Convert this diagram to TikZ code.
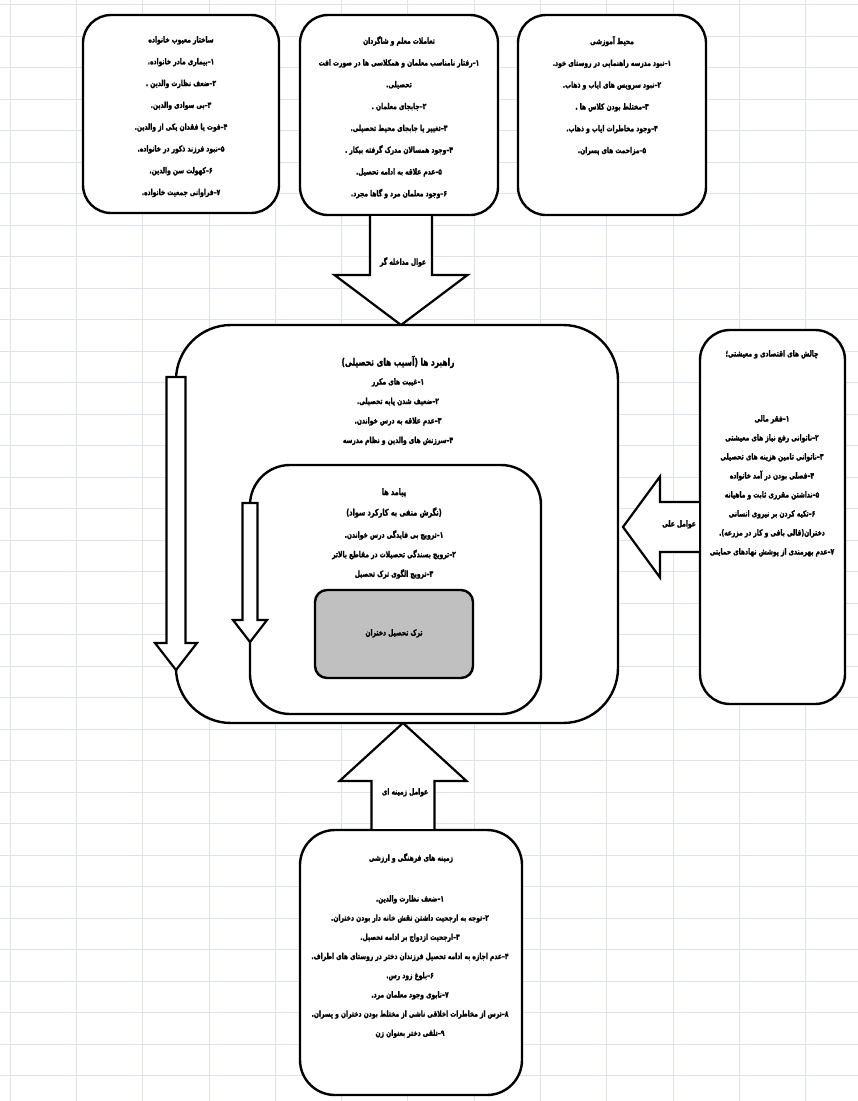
\documentclass[tikz,border=0pt]{standalone}
\usepackage{fontspec}
\usetikzlibrary{calc}
\TeXXeTstate=1
\newfontfamily\arabicfont[Script=Arabic,FakeStretch=0.72,FakeBold=1.6]{DejaVu Sans}
\newcommand\fa[1]{\beginR #1\endR}
\newcommand\nm[1]{#1\kern0pt–\kern0pt}
\definecolor{gridc}{RGB}{222,226,236}
\definecolor{goalgray}{RGB}{192,192,192}

\tikzset{
  panel/.style={draw, line width=2.4pt, fill=white, rounded corners=#1, inner sep=0pt, outer sep=0pt},
  panel/.default=28pt,
  blockarrow/.style={draw, line width=2.2pt, fill=white, line join=miter},
  gridline/.style={draw=gridc, line width=0.7pt},
  fatext/.style={font={\arabicfont\bfseries\fontsize{8.3}{#1}\selectfont}, align=center, inner sep=0pt, anchor=north},
  fatext/.default=21.8pt,
  fatitle/.style={font={\arabicfont\bfseries\fontsize{10.3}{12}\selectfont}, inner sep=0pt},
}

\begin{document}
\begin{tikzpicture}[x=1pt, y=-1pt]
\useasboundingbox (0,0) rectangle (858,1101);

% sheet grid
\foreach \i in {0,...,12}
  \draw[gridline] (10+66.3*\i,0) -- (10+66.3*\i,1101);
\foreach \j in {0,...,34}
  \draw[gridline] (0,4.5+31.5*\j) -- (858,4.5+31.5*\j);

% boxes
\node[panel, minimum width=196pt, minimum height=198pt] (sakhtar) at (181,114) {};
\node[panel, minimum width=198pt, minimum height=200pt] (tamol) at (399,115) {};
\node[panel, minimum width=188pt, minimum height=200pt] (mohit) at (612,115) {};
\node[panel=30pt, minimum width=145pt, minimum height=374pt] (chalesh) at (772.5,517) {};
\node[panel=35pt, minimum width=222pt, minimum height=265pt] (zamine) at (411,962.5) {};

% top arrow
\coordinate (ta) at ($(tamol.south)+(2,0)$);
\draw[blockarrow] ($(ta)+(-31,1.2)$) -- ($(ta)+(-31,60)$) -- ($(ta)+(-66.5,60)$)
  -- (ta |- 0,325) -- ($(ta)+(66.5,60)$) -- ($(ta)+(31,60)$) -- ($(ta)+(31,1.2)$);

% bottom arrow
\coordinate (za) at ($(zamine.north)+(-8,0)$);
\draw[blockarrow] ($(za)+(-31.5,-1.2)$) -- ($(za)+(-31.5,-49)$) -- ($(za)+(-63.5,-49)$)
  -- (za |- 0,723) -- ($(za)+(63.5,-49)$) -- ($(za)+(31.5,-49)$) -- ($(za)+(31.5,-1.2)$);

% left arrow
\coordinate (ch) at ($(chalesh.west)+(0,10)$);
\draw[blockarrow] ($(ch)+(-1.2,-25)$) -- ($(ch)+(-40,-25)$) -- ($(ch)+(-40,-50.5)$)
  -- ($(ch)+(-77,0)$) -- ($(ch)+(-40,50.5)$) -- ($(ch)+(-40,25)$) -- ($(ch)+(-1.2,25)$);

% main boxes
\node[panel=55pt, minimum width=442pt, minimum height=398pt] (rahbord) at (397,524) {};
\draw[blockarrow] ($(rahbord.west)+(-9.5,-147)$) -- ($(rahbord.west)+(-9.5,119)$)
  -- ($(rahbord.west)+(-21,119)$) -- ($(rahbord.west)+(0,146)$) -- ($(rahbord.west)+(21,119)$)
  -- ($(rahbord.west)+(9.5,119)$) -- ($(rahbord.west)+(9.5,-147)$) -- cycle;

\node[panel=40pt, minimum width=291pt, minimum height=249pt] (payamad) at (395.5,589.5) {};
\draw[blockarrow] ($(payamad.west)+(-7.5,-86.5)$) -- ($(payamad.west)+(-7.5,30.5)$)
  -- ($(payamad.west)+(-17,30.5)$) -- ($(payamad.west)+(0,52.5)$) -- ($(payamad.west)+(17,30.5)$)
  -- ($(payamad.west)+(7.5,30.5)$) -- ($(payamad.west)+(7.5,-86.5)$) -- cycle;

\node[panel=12pt, fill=goalgray, minimum width=158pt, minimum height=88pt] (tark) at (394,634) {};

% texts
\node[fatext] (sakhtarT) at (181,36) {\fa{ساختار معیوب خانواده}\\
  \fa{\nm{۱} بیماری مادر خانواده.}\\
  \fa{\nm{۲} ضعف نظارت والدین .}\\
  \fa{\nm{۳}بی سوادی والدین.}\\
  \fa{\nm{۴} فوت یا فقدان یکی از والدین.}\\
  \fa{\nm{۵} نبود فرزند ذکور در خانواده.}\\
  \fa{\nm{۶} کهولت سن والدین.}\\
  \fa{\nm{۷} فراوانی جمعیت خانواده.}};

\node[fatext] (tamolT) at (399,36) {\fa{تعاملات معلم و شاگردان}\\
  \fa{\nm{۱} رفتار نامناسب معلمان و همکلاسی ها در صورت افت}\\
  \fa{تحصیلی.}\\
  \fa{\nm{۲} جابجای معلمان .}\\
  \fa{\nm{۳} تغییر یا جابجای محیط تحصیلی.}\\
  \fa{\nm{۴} وجود همسالان مدرک گرفته بیکار .}\\
  \fa{\nm{۵} عدم علاقه به ادامه تحصیل.}\\
  \fa{\nm{۶} وجود معلمان مرد و گاها مجرد.}};

\node[fatext] (mohitT) at (612,36) {\fa{محیط آموزشی}\\
  \fa{\nm{۱} نبود مدرسه راهنمایی در روستای خود.}\\
  \fa{\nm{۲} نبود سرویس های ایاب و ذهاب.}\\
  \fa{\nm{۳} مختلط بودن کلاس ها .}\\
  \fa{\nm{۴} وجود مخاطرات ایاب و ذهاب.}\\
  \fa{\nm{۵} مزاحمت های پسران.}};

\node[fatext] (taL) at (403,257) {\fa{عوال مداخله گر}};
\node[fatext] (chL) at (679,520) {\fa{عوامل علی}};
\node[fatext] (zaL) at (405,788) {\fa{عوامل زمینه ای}};

\node[fatitle] (rahbordH) at (398,362) {\fa{راهبرد ها (آسیب های تحصیلی)}};
\node[fatext=19.5pt] (rahbordT) at (398,378) {\fa{\nm{۱}غیبت های مکرر}\\
  \fa{\nm{۲} ضعیف شدن پایه تحصیلی.}\\
  \fa{\nm{۳} عدم علاقه به درس خواندن.}\\
  \fa{\nm{۴} سرزنش های والدین و نظام مدرسه}};

\node[fatext=20.5pt, font={\arabicfont\bfseries\fontsize{9}{20.5}\selectfont}] (payamadH) at (394,488) {\fa{پیامد ها}\\
  \fa{(نگرش منفی به کارکرد سواد)}};
\node[fatext=19.5pt] (payamadT) at (394,530) {\fa{\nm{۱} ترویج بی فایدگی درس خواندن.}\\
  \fa{\nm{۲} ترویج بسندگی تحصیلات در مقاطع بالاتر}\\
  \fa{\nm{۳}ترویج الگوی ترک تحصیل}};

\node[fatext] (tarkT) at (394,629) {\fa{ترک تحصیل دختران}};

\node[fatext] (chaleshH) at (772,350) {\fa{چالش های اقتصادی و معیشتی؛}};
\node[fatext=19pt] (chaleshT) at (772,415) {\fa{\nm{۱} فقر مالی}\\
  \fa{\nm{۲} ناتوانی رفع نیاز های معیشتی}\\
  \fa{\nm{۳}ناتوانی تامین هزینه های تحصیلی}\\
  \fa{\nm{۴}فصلی بودن در آمد خانواده}\\
  \fa{\nm{۵}نداشتن مقرری ثابت و ماهیانه}\\
  \fa{\nm{۶} تکیه کردن بر نیروی انسانی}\\
  \fa{دختران(قالی بافی و کار در مزرعه).}\\
  \fa{\nm{۷} عدم بهرمندی از پوشش نهادهای حمایتی}};

\node[fatext] (zamineH) at (411,853) {\fa{زمینه های فرهنگی و ارزشی}};
\node[fatext=19.2pt] (zamineT) at (410,895) {\fa{\nm{۱} ضعف نظارت والدین.}\\
  \fa{\nm{۲} توجه به ارجحیت داشتن نقش خانه دار بودن دختران.}\\
  \fa{\nm{۳} ارجحیت ازدواج بر ادامه تحصیل.}\\
  \fa{\nm{۴} عدم اجازه به ادامه تحصیل فرزندان دختر در روستای های اطراف.}\\
  \fa{\nm{۶} بلوغ زود رس.}\\
  \fa{\nm{۷} نابوی وجود معلمان مرد.}\\
  \fa{\nm{۸} ترس از مخاطرات اخلاقی ناشی از مختلط بودن دختران و پسران.}\\
  \fa{\nm{۹} تلقی دختر بعنوان زن}};
\end{tikzpicture}
\end{document}
